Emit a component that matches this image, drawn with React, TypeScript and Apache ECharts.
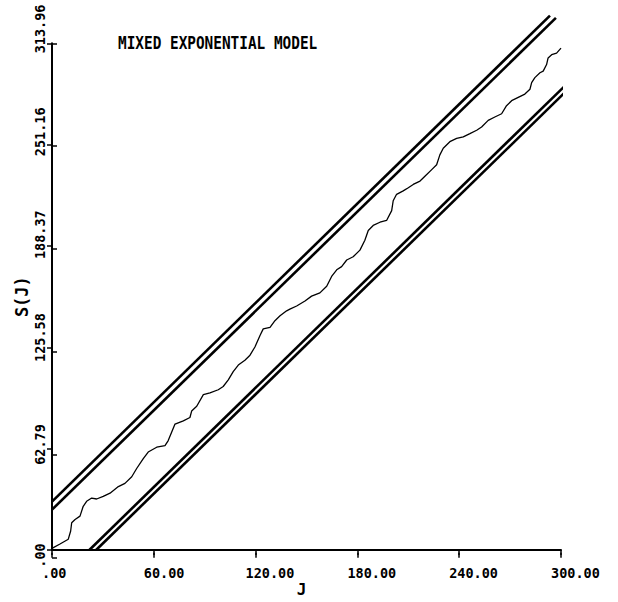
import React, { useEffect, useRef } from 'react';
import * as echarts from 'echarts';

// ---- data ----
const xTickLabels = ['.00', '60.00', '120.00', '180.00', '240.00', '300.00'];
const yTickLabels = ['.00', '62.79', '125.58', '188.37', '251.16', '313.96'];

const jValues = [
  0, 4.7, 9.6, 11.0, 11.6, 13.6, 16.5, 18.4, 20.4, 23.4, 26.3, 30.2, 34.2, 39.1, 43.0, 47.0,
  49.9, 53.8, 56.7, 61.7, 66.6, 68.5, 70.5, 72.5, 77.4, 81.3, 82.3, 85.3, 89.2, 93.1, 98.0,
  100.9, 103.9, 106.8, 109.8, 113.7, 116.7, 119.6, 122.6, 124.5, 128.5, 131.4, 134.4, 138.3,
  140.2, 144.2, 149.1, 153.0, 157.9, 161.9, 164.8, 167.8, 170.7, 173.7, 177.5, 181.5, 184.4,
  186.4, 189.3, 193.3, 197.2, 200.2, 201.1, 203.1, 207.0, 210.0, 212.9, 216.9, 219.8, 223.8,
  226.7, 228.6, 230.6, 234.5, 238.5, 242.4, 246.3, 250.3, 253.2, 257.1, 261.0, 265.0, 267.9,
  270.9, 274.8, 278.7, 281.7, 282.7, 284.6, 287.6, 289.5, 291.5, 292.4, 294.5, 297.4, 300.0,
];
const sValues = [
  1.0, 3.7, 6.7, 11.8, 16.9, 18.9, 21.0, 27.1, 30.2, 32.2, 31.6, 33.2, 35.2, 39.3, 41.3, 45.4,
  50.5, 56.6, 60.7, 63.7, 64.7, 67.8, 72.9, 78.0, 80.0, 82.1, 86.1, 89.1, 96.3, 97.3, 99.3,
  101.3, 105.4, 110.5, 114.6, 117.6, 120.7, 125.8, 132.9, 137.0, 138.0, 142.1, 145.1, 148.2,
  149.2, 151.2, 154.3, 157.3, 159.3, 163.4, 169.5, 173.6, 175.6, 179.7, 181.7, 185.8, 191.9,
  198.0, 201.1, 203.1, 204.2, 210.3, 216.4, 220.4, 222.5, 224.5, 226.5, 228.6, 231.6, 235.7,
  238.7, 244.8, 248.9, 253.0, 255.0, 256.0, 258.0, 260.1, 262.1, 266.2, 268.3, 270.3, 275.3,
  278.4, 280.5, 282.5, 285.5, 289.6, 292.7, 295.7, 296.7, 300.8, 304.9, 306.9, 307.9, 311.0,
];

// control limit lines (two upper, two lower)
const limitStartJ = [0, 0, 22.0, 26.0];
const limitStartS = [30.0, 25.0, 0, 0];
const limitEndJ = [293.5, 297.0, 314.1, 316.6];
const limitEndS = [331.1, 329.7, 299.7, 298.2];

const X_MIN = 0;
const X_MAX = 300;
const X_STEP = 60;
const Y_MIN = 0;
const Y_MAX = 313.96;
const Y_STEP = 62.792;

const TITLE = 'MIXED EXPONENTIAL MODEL';
const X_NAME = 'J';
const Y_NAME = 'S(J)';

const FONT = '"DejaVu Sans Mono", "Liberation Mono", monospace';

export default function App() {
  const ref = useRef<HTMLDivElement>(null);

  useEffect(() => {
    if (!ref.current) return;
    const chart = echarts.init(ref.current, null, { renderer: 'svg' });

    const main = { left: 52, right: 57, top: 43.3, bottom: 44.3 };
    const black = '#000';

    const baseX = { type: 'value', min: X_MIN, max: X_MAX, interval: X_STEP, splitLine: { show: false } };
    const baseY = { type: 'value', min: Y_MIN, max: Y_MAX, interval: Y_STEP, splitLine: { show: false } };

    const pathData = jValues.map((j, i) => [j, sValues[i]]);

    const limitSeries = limitStartJ.map((_, k) => ({
      type: 'line',
      xAxisIndex: 0,
      yAxisIndex: 0,
      clip: false,
      showSymbol: false,
      silent: true,
      data: [
        [limitStartJ[k], limitStartS[k]],
        [limitEndJ[k], limitEndS[k]],
      ],
      lineStyle: { color: black, width: 2.6 },
    }));

    const option: any = {
      animation: false,
      backgroundColor: '#fff',
      grid: [
        { ...main },
        { left: main.left - 10, right: main.right + 10, top: main.top, bottom: main.bottom },
        { left: main.left, right: main.right, top: main.top + 10, bottom: main.bottom - 10 },
        { ...main },
      ],
      xAxis: [
        {
          ...baseX,
          gridIndex: 0,
          axisLine: { show: true, lineStyle: { color: black, width: 2 } },
          axisTick: { show: true, length: 5, lineStyle: { color: black, width: 1.5 } },
          axisLabel: { show: false },
          name: X_NAME,
          nameLocation: 'middle',
          nameGap: 31,
          nameTextStyle: {
            fontFamily: FONT,
            fontSize: 16,
            fontWeight: 'bold',
            color: black,
            verticalAlign: 'top',
            padding: [0, 10, 0, 0],
          },
        },
        {
          ...baseX,
          gridIndex: 1,
          axisLine: { show: false },
          axisTick: { show: false },
          axisLabel: {
            show: true,
            align: 'left',
            margin: 8,
            fontFamily: FONT,
            fontWeight: 'bold',
            fontSize: 13.5,
            color: black,
            formatter: (_v: number, i: number) => xTickLabels[i] ?? '',
          },
        },
        { ...baseX, gridIndex: 2, show: false },
        {
          ...baseX,
          gridIndex: 3,
          axisLine: { show: false },
          axisTick: { show: true, inside: true, length: 5, lineStyle: { color: black, width: 1.5 } },
          axisLabel: { show: false },
        },
      ],
      yAxis: [
        {
          ...baseY,
          gridIndex: 0,
          axisLine: { show: true, lineStyle: { color: black, width: 2 } },
          axisTick: { show: true, length: 5, lineStyle: { color: black, width: 1.5 } },
          axisLabel: { show: false },
          name: Y_NAME,
          nameLocation: 'middle',
          nameGap: 22,
          nameTextStyle: { fontFamily: FONT, fontSize: 17, fontWeight: 'bold', color: black },
        },
        { ...baseY, gridIndex: 1, show: false },
        {
          ...baseY,
          gridIndex: 2,
          axisLine: { show: false },
          axisTick: { show: false },
          axisLabel: {
            show: true,
            rotate: 90,
            align: 'left',
            margin: 5,
            fontFamily: FONT,
            fontWeight: 'bold',
            fontSize: 13.5,
            color: black,
            formatter: (_v: number, i: number) => yTickLabels[i] ?? '',
          },
        },
        {
          ...baseY,
          gridIndex: 3,
          axisLine: { show: false },
          axisTick: { show: true, inside: true, length: 5, lineStyle: { color: black, width: 1.5 } },
          axisLabel: { show: false },
        },
      ],
      graphic: [
        {
          type: 'text',
          x: 118,
          y: 35,
          scaleY: 1.2,
          silent: true,
          style: {
            text: TITLE,
            fontFamily: FONT,
            fontWeight: 'bold',
            fontSize: 14.4,
            fill: black,
          },
        },
      ],
      series: [
        {
          type: 'line',
          xAxisIndex: 0,
          yAxisIndex: 0,
          showSymbol: false,
          silent: true,
          data: pathData,
          lineStyle: { color: black, width: 1.3 },
        },
        ...limitSeries,
      ],
    };

    chart.setOption(option);
    return () => chart.dispose();
  }, []);

  return (
    <div
      ref={ref}
      style={{ position: 'fixed', left: 0, top: 0, width: 618, height: 602, background: '#fff' }}
    />
  );
}
